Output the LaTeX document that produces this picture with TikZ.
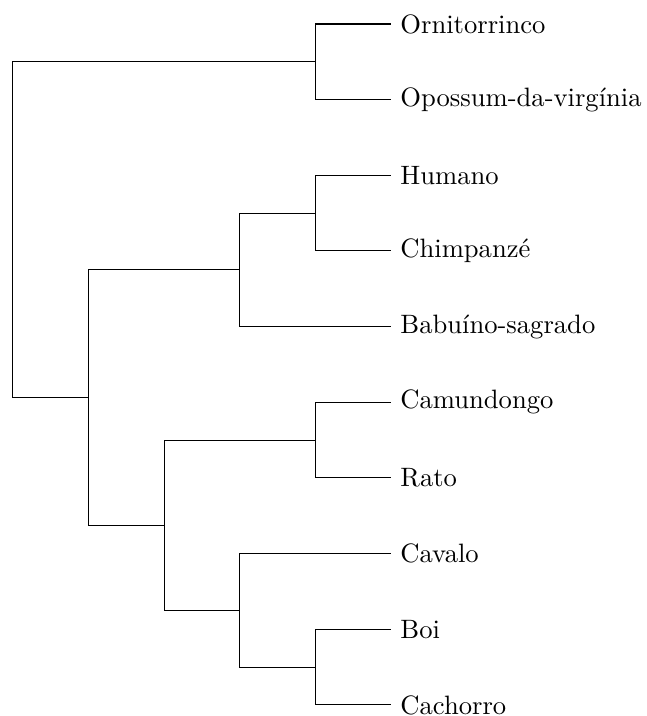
\documentclass[tikz,border=0pt]{standalone}
\usepackage{fontspec}
\begin{document}
\begin{tikzpicture}[x=1cm,y=1cm,
  leaf/.style={anchor=west, inner sep=0.3333em},
  branch/.style={line width=0.4pt, draw=black}]
\useasboundingbox (-0.168,-0.146) rectangle (8.377,9.317);
% leaves
\node[leaf] (orn) at (5,9) {Ornitorrinco};
\node[leaf] (opo) at (5,8) {Opossum-da-virgínia};
\node[leaf] (hum) at (5,7) {Humano};
\node[leaf] (chi) at (5,6) {Chimpanzé};
\node[leaf] (bab) at (5,5) {Babuíno-sagrado};
\node[leaf] (cam) at (5,4) {Camundongo};
\node[leaf] (rat) at (5,3) {Rato};
\node[leaf] (cav) at (5,2) {Cavalo};
\node[leaf] (boi) at (5,1) {Boi};
\node[leaf] (cac) at (5,0) {Cachorro};
% internal nodes
\coordinate (A) at (4,8.5);
\coordinate (B) at (4,6.5);
\coordinate (C) at (3,5.75);
\coordinate (D) at (4,3.5);
\coordinate (E) at (4,0.5);
\coordinate (F) at (3,1.25);
\coordinate (G) at (2,2.375);
\coordinate (H) at (1,4.0625);
\coordinate (R) at (0,6.28125);
% connectors
\draw[branch] (A) |- (orn.west);
\draw[branch] (A) |- (opo.west);
\draw[branch] (B) |- (hum.west);
\draw[branch] (B) |- (chi.west);
\draw[branch] (C) |- (B);
\draw[branch] (C) |- (bab.west);
\draw[branch] (D) |- (cam.west);
\draw[branch] (D) |- (rat.west);
\draw[branch] (E) |- (boi.west);
\draw[branch] (E) |- (cac.west);
\draw[branch] (F) |- (cav.west);
\draw[branch] (F) |- (E);
\draw[branch] (G) |- (D);
\draw[branch] (G) |- (F);
\draw[branch] (H) |- (C);
\draw[branch] (H) |- (G);
\draw[branch] (R) |- (A);
\draw[branch] (R) |- (H);
\end{tikzpicture}
\end{document}
